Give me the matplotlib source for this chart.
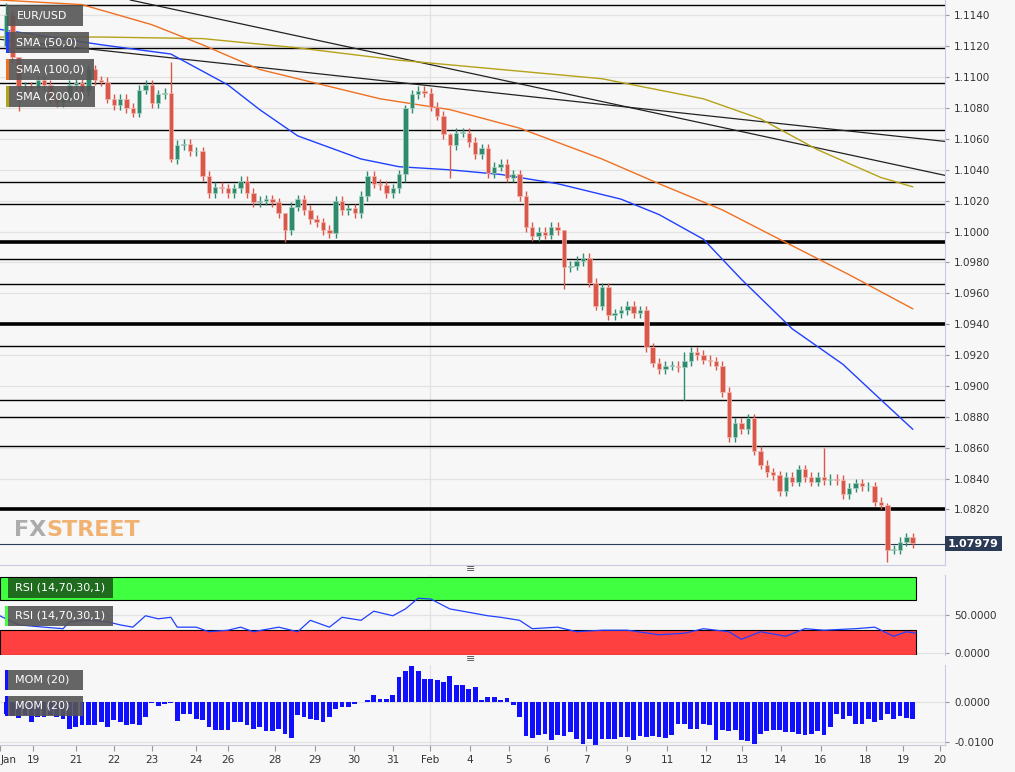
import matplotlib
matplotlib.use("Agg")
import matplotlib.pyplot as plt
from matplotlib.patches import Rectangle

closes = [1.1140,1.1113,1.1094,1.1094,1.1093,1.1098,1.1095,1.1086,1.1084,1.1087,1.1095,1.1096,1.1091,1.1105,1.1098,1.1097,1.1086,1.1082,1.1086,1.1080,1.1077,1.1092,1.1095,1.1083,1.1089,1.1090,1.1047,1.1056,1.1057,1.1052,1.1052,1.1036,1.1025,1.1029,1.1028,1.1025,1.1028,1.1033,1.1025,1.1019,1.1020,1.1021,1.1019,1.1012,1.1001,1.1016,1.1021,1.1014,1.1008,
          1.1006,1.1001,1.0999,1.1020,1.1014,1.1015,1.1012,1.1023,1.1036,1.1031,1.1030,1.1025,1.1028,1.1037,1.1080,1.1089,1.1091,1.1090,1.1081,1.1075,1.1063,1.1056,1.1064,1.1064,1.1058,1.1050,1.1054,1.1038,1.1042,1.1044,1.1035,1.1037,1.1023,1.1003,1.0997,1.1000,1.0998,1.1003,1.1001,1.0977,1.0978,1.0981,1.0983,1.0967,1.0952,1.0964,1.0946,1.0947,
          1.0949,1.0952,1.0947,1.0949,1.0925,1.0915,1.0911,1.0913,1.0913,1.0912,1.0916,1.0922,1.0920,1.0917,1.0916,1.0913,1.0896,1.0867,1.0876,1.0872,1.0879,1.0858,1.0849,1.0844,1.0842,1.0832,1.0841,1.0838,1.0846,1.0841,1.0838,1.0841,1.0839,1.0840,1.0839,1.0830,1.0834,1.0837,1.0835,1.0835,1.0825,1.0823,1.0794,1.0794,1.0799,1.0802,1.0798]
first_open = 1.1120
wick = 0.0003
wick_override = {0: (1.1148, 1.1118), 2: (1.1113, 1.1078), 26: (1.1110, 1.1045), 44: (1.1012, 1.0993),
                 63: (1.1082, 1.1032), 70: (1.1064, 1.1035), 88: (1.1001, 1.0963), 107: (1.0922, 1.0891),
                 129: (1.0860, 1.0836), 139: (1.0824, 1.0786)}

sma50_x = [-1, 15, 26, 35, 40, 46, 56, 62, 70, 78, 87, 97, 103, 110, 116, 124, 132, 138, 143]
sma50_y = [1.1131,1.1121,1.1115,1.1095,1.1079,1.1062,1.1047,1.1042,1.1040,1.1037,1.1031,1.1021,1.1011,1.0995,1.0969,1.0937,1.0914,1.0891,1.0872]
sma100_x = [-1, 12, 23, 31, 40, 50, 59, 70, 81, 94, 103, 113, 122, 133, 143]
sma100_y = [1.1150,1.1147,1.1134,1.1121,1.1105,1.1095,1.1086,1.1079,1.1067,1.1047,1.1031,1.1014,1.0995,1.0972,1.0950]
sma200_x = [-1, 15, 31, 46, 62, 78, 94, 110, 119, 128, 138, 143]
sma200_y = [1.1126,1.1126,1.1125,1.1119,1.1111,1.1105,1.1099,1.1086,1.1073,1.1053,1.1035,1.1029]
trend_x = [[19.6, 148.1], [-0.95, 148.1]]
trend_y = [[1.1150, 1.10364], [1.11245, 1.10584]]
hlines_thin = [1.1147, 1.1119, 1.1096, 1.1066, 1.1032, 1.1018, 1.0982, 1.0966, 1.0926, 1.0891, 1.0880, 1.0861]
hlines_thick = [1.0993, 1.0940, 1.0820]
last_price = 1.07979

rsi_x = [-1,2,6,9,10,13,16,18,20,22,24,26,27,30,32,35,37,39,43,46,48,51,53,56,58,61,63,65,67,70,72,76,78,81,83,87,90,94,98,103,107,110,114,116,119,123,126,129,134,137,140,142,143.5]
rsi_y = [49,37,34,32,41,43,41,37,34,49,45,47,34,34,28,30,34,28,34,28,43,34,47,43,55,49,58,72,71,58,55,49,47,43,32,34,28,30,30,24,26,32,28,18,28,22,32,30,32,34,22,28,26]

mom = [-0.0030,-0.0035,-0.0040,
       -0.0033,-0.0050,-0.0037,-0.0037,-0.0033,-0.0037,-0.0042,-0.0067,-0.0062,-0.0058,-0.0058,-0.0058,-0.0050,-0.0062,-0.0046,-0.0050,-0.0057,-0.0054,-0.0058,-0.0037,-0.0002,-0.0010,-0.0004,-0.0003,-0.0047,-0.0029,-0.0029,-0.0043,-0.0046,-0.0062,-0.0071,-0.0071,-0.0069,-0.0050,-0.0050,-0.0058,-0.0067,-0.0062,-0.0072,-0.0072,-0.0067,-0.0079,-0.0090,-0.0033,-0.0037,-0.0043,-0.0046,-0.0050,-0.0037,-0.0017,-0.0013,-0.0013,-0.0004,-0.0001,
       0.0004,0.0017,0.0008,0.0008,0.0017,0.0062,0.0077,0.0089,0.0077,0.0058,0.0058,0.0056,0.0050,0.0064,0.0042,0.0043,0.0033,0.0037,0.0006,0.0012,0.0012,0.0004,0.0011,
       -0.0008,-0.0037,-0.0085,-0.0090,-0.0083,-0.0079,-0.0096,-0.0083,-0.0085,-0.0075,-0.0093,-0.0104,-0.0092,-0.0108,-0.0092,-0.0092,-0.0092,-0.0087,-0.0087,-0.0096,-0.0085,-0.0087,-0.0085,-0.0087,-0.0090,-0.0083,-0.0056,-0.0056,-0.0067,-0.0068,-0.0054,-0.0058,-0.0096,-0.0071,-0.0073,-0.0071,-0.0096,-0.0097,-0.0104,-0.0079,-0.0073,-0.0071,-0.0071,-0.0075,-0.0075,-0.0081,-0.0082,-0.0079,-0.0073,-0.0082,-0.0062,-0.0029,-0.0042,-0.0035,-0.0054,-0.0054,-0.0042,-0.0050,-0.0046,-0.0029,-0.0043,
       -0.0035,-0.0040,-0.0043]

tick_pos = [-0.9, 4.3, 11.0, 17.0, 23.0, 30.0, 35.0, 42.4, 48.7, 54.9, 61.0, 66.9, 73.2, 79.3, 85.3, 91.5, 98.0, 104.3, 110.4, 116.1, 122.2, 128.5, 135.6, 141.5, 147.3]
tick_lab = ["Jan","19","21","22","23","24","26","28","29","30","31","Feb","4","5","6","7","9","11","12","13","14","16","18","19","20"]

W, H = 1015, 772
BG = "#f7f7f7"
fig = plt.figure(figsize=(W/100, H/100), dpi=100, facecolor=BG)
def ax_at(top, bot):
    return fig.add_axes([0, 1-bot/H, 945/W, (bot-top)/H], facecolor=BG)

XL = (-0.95, 148.1)
ax = ax_at(0, 565)
ax.set_xlim(*XL); ax.set_ylim(1.0784, 1.1150)
for s in ax.spines.values(): s.set_visible(False)
ax.spines['right'].set_visible(True); ax.spines['right'].set_color("#c8cbe0")
ax.spines['bottom'].set_visible(True); ax.spines['bottom'].set_color("#c8cbe0")
yt = [1.1140 - 0.0020*k for k in range(17)]
ax.set_yticks(yt); ax.set_yticklabels([f"{v:.4f}" for v in yt], fontsize=7.5, color="#333")
ax.yaxis.tick_right(); ax.tick_params(axis='y', length=3, pad=3, color="#999")
ax.set_xticks([])
for v in yt:
    ax.axhline(v, color="#e2e2e2", lw=0.9, zorder=0)
ax.axvline(tick_pos[11], color="#e2e2e2", lw=0.9, zorder=0)
for v in hlines_thin:
    ax.axhline(v, color="black", lw=1.0, zorder=1)
for v in hlines_thick:
    ax.axhline(v, color="black", lw=2.6, zorder=1)
ax.axhline(last_price, color="#2b3a55", lw=0.8, zorder=1)
for tx, ty in zip(trend_x, trend_y):
    ax.plot(tx, ty, color="#222", lw=0.9, zorder=2)
ax.plot(sma200_x, sma200_y, color="#b5a218", lw=1.0, zorder=2)
ax.plot(sma100_x, sma100_y, color="#f07020", lw=1.0, zorder=2)
ax.plot(sma50_x, sma50_y, color="#2040ff", lw=1.0, zorder=2)

prev = first_open
for i, c in enumerate(closes):
    o = prev
    up = c >= o
    col = "#2e8b6e" if up else "#d9584a"
    hi, lo = wick_override.get(i, (max(o, c) + wick, min(o, c) - wick))
    ax.vlines(i, lo, hi, color=col, lw=1.0, zorder=3)
    b = max(abs(c - o), 0.00004)
    ax.add_patch(Rectangle((i - 0.35, min(o, c)), 0.7, b, facecolor=col,
                           edgecolor="#f0b8b0" if not up else "#a8d0c0", lw=0.5, zorder=4))
    prev = c
ax.text(948/945, (last_price-1.0784)/(1.1150-1.0784), f"{last_price:.5f}", transform=ax.transAxes,
        fontsize=8, color="white", fontweight="bold", va="center", ha="left",
        bbox=dict(boxstyle="square,pad=0.25", fc="#2b3a55", ec="none"), clip_on=False)
ax.text(14/945, 35/565, "FX", transform=ax.transAxes, fontsize=16, fontweight="bold", color="#9a9a9a", alpha=0.8, va="center")
ax.text(46/945, 35/565, "STREET", transform=ax.transAxes, fontsize=16, fontweight="bold", color="#f0a050", alpha=0.8, va="center")

def label(a, x0, y0, w, h, txt, H_ax, W_ax=945, bar=None, fc="#555555"):
    a.add_patch(Rectangle((x0/W_ax, 1-(y0+h)/H_ax), w/W_ax, h/H_ax, transform=a.transAxes,
                          fc=fc, ec="none", alpha=0.9, zorder=10, clip_on=False))
    if bar:
        a.add_patch(Rectangle((x0/W_ax, 1-(y0+h)/H_ax), 3/W_ax, h/H_ax, transform=a.transAxes,
                              fc=bar, ec="none", zorder=11, clip_on=False))
    a.text((x0+10)/W_ax, 1-(y0+h/2)/H_ax, txt, transform=a.transAxes, fontsize=8,
           color="white", va="center", zorder=12)

label(ax, 7, 5, 76, 21, "EUR/USD", 565)
label(ax, 6, 32, 83, 21, "SMA (50,0)", 565, bar="#2040ff")
label(ax, 6, 59, 88, 21, "SMA (100,0)", 565, bar="#f07020")
label(ax, 6, 86, 89, 21, "SMA (200,0)", 565, bar="#b5a218")

# RSI
ar = ax_at(575, 655)
ar.set_xlim(*XL); ar.set_ylim(-2.6, 102.6)
for s in ar.spines.values(): s.set_visible(False)
ar.spines['right'].set_visible(True); ar.spines['right'].set_color("#c8cbe0")
ar.yaxis.tick_right(); ar.set_yticks([0, 50]); ar.set_yticklabels(["0.0000", "50.0000"], fontsize=7.5, color="#333")
ar.tick_params(axis='y', length=3, color="#999"); ar.set_xticks([])
for v in [0, 50]:
    ar.axhline(v, color="#e2e2e2", lw=0.9, zorder=0)
ar.axvline(tick_pos[11], color="#e2e2e2", lw=0.9, zorder=0)
ar.add_patch(Rectangle((XL[0], 70), 143.5 - XL[0], 30, fc="#40ff40", ec="black", lw=0.8, zorder=1))
ar.add_patch(Rectangle((XL[0], -3), 143.5 - XL[0], 33, fc="#ff4040", ec="black", lw=0.8, zorder=1))
ar.plot(rsi_x, rsi_y, color="#2040ff", lw=0.9, zorder=3)
label(ar, 5, 3, 108, 20, "RSI (14,70,30,1)", 80, bar="#40ff40", fc="#1c5c1c")
label(ar, 5, 31, 108, 20, "RSI (14,70,30,1)", 80, bar="#40ff40")

# MOM
am = ax_at(665, 745)
am.set_xlim(*XL); am.set_ylim(-0.01075, 0.00925)
for s in am.spines.values(): s.set_visible(False)
am.spines['right'].set_visible(True); am.spines['right'].set_color("#c8cbe0")
am.spines['bottom'].set_visible(True); am.spines['bottom'].set_color("#c8cbe0")
am.yaxis.tick_right(); am.set_yticks([-0.01, 0]); am.set_yticklabels(["-0.0100", "0.0000"], fontsize=7.5, color="#333")
am.tick_params(axis='y', length=3, color="#999")
for v in [-0.01, 0]:
    am.axhline(v, color="#e2e2e2", lw=0.9, zorder=0)
am.axvline(tick_pos[11], color="#e2e2e2", lw=0.9, zorder=0)
am.bar(range(len(mom)), mom, width=0.75, color="#1010ff", zorder=2)
am.set_xticks(tick_pos); am.set_xticklabels(tick_lab, fontsize=7.5, color="#333")
am.get_xticklabels()[0].set_horizontalalignment("left")
am.tick_params(axis='x', length=4, color="#999", pad=3)
label(am, 5, 5, 78, 20, "MOM (20)", 80, bar="#1010ff")
label(am, 5, 31, 78, 20, "MOM (20)", 80, bar="#1010ff")

for yy in [569, 659]:
    fig.text(471/W, 1-yy/H, "≡", fontsize=8, color="#555", ha="center", va="center")

fig.savefig("out.png", dpi=100, facecolor=BG)
